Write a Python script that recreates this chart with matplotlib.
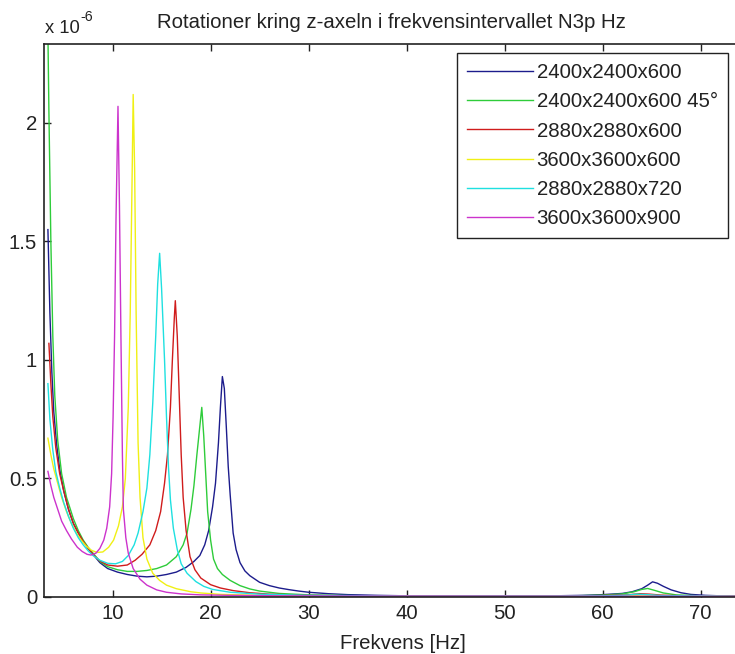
import matplotlib
matplotlib.use("Agg")
import matplotlib.pyplot as plt
from matplotlib.ticker import FixedLocator, FuncFormatter

# Frequency response (rotation about the z axis), values in units of 1e-6
blue_pts = [(3.4, 1.55), (3.6, 1.2), (3.8, 0.95), (4.0, 0.78), (4.3, 0.64), (4.6, 0.54),
            (5.0, 0.45), (5.5, 0.37), (6.0, 0.31), (6.5, 0.27), (7.0, 0.235), (7.5, 0.205),
            (8.0, 0.18), (8.7, 0.145), (9.5, 0.12), (10.5, 0.105), (11.5, 0.095), (12.5, 0.088),
            (13.5, 0.085), (14.5, 0.088), (15.5, 0.095), (16.5, 0.105), (17.5, 0.125),
            (18.3, 0.15), (18.9, 0.175), (19.4, 0.22), (19.8, 0.28), (20.2, 0.38), (20.5, 0.48),
            (20.8, 0.65), (21.0, 0.8), (21.2, 0.93), (21.4, 0.88), (21.6, 0.72), (21.8, 0.55),
            (22.0, 0.43), (22.3, 0.27), (22.6, 0.2), (23.0, 0.145), (23.5, 0.11), (24.0, 0.09),
            (25.0, 0.062), (26.0, 0.048), (27.0, 0.038), (28.0, 0.031), (29.0, 0.025),
            (30.0, 0.02), (32.0, 0.014), (34.0, 0.01), (37.0, 0.007), (40.0, 0.005),
            (45.0, 0.004), (50.0, 0.004), (55.0, 0.005), (58.0, 0.007), (60.0, 0.01),
            (62.0, 0.015), (63.0, 0.022), (64.0, 0.035), (64.6, 0.05), (65.1, 0.064),
            (65.6, 0.058), (66.2, 0.045), (67.0, 0.03), (68.0, 0.018), (69.0, 0.011),
            (70.5, 0.007), (72.0, 0.005), (74.5, 0.004)]

green_pts = [(3.3, 2.7), (3.5, 2.05), (3.7, 1.5), (3.9, 1.1), (4.1, 0.85), (4.4, 0.66),
             (4.8, 0.52), (5.3, 0.42), (6.0, 0.33), (6.5, 0.28), (7.0, 0.24), (7.5, 0.21),
             (8.0, 0.185), (8.7, 0.15), (9.5, 0.128), (10.5, 0.115), (11.5, 0.108),
             (12.5, 0.108), (13.5, 0.112), (14.5, 0.12), (15.5, 0.135), (16.5, 0.17),
             (17.2, 0.22), (17.6, 0.27), (18.0, 0.37), (18.3, 0.47), (18.6, 0.6), (18.9, 0.72),
             (19.1, 0.80), (19.3, 0.68), (19.5, 0.52), (19.7, 0.36), (20.0, 0.24), (20.3, 0.16),
             (20.7, 0.12), (21.2, 0.095), (22.0, 0.07), (23.0, 0.048), (24.0, 0.034),
             (25.0, 0.025), (27.0, 0.015), (30.0, 0.009), (34.0, 0.006), (40.0, 0.004),
             (50.0, 0.004), (57.0, 0.005), (60.0, 0.008), (62.0, 0.013), (63.2, 0.022),
             (64.0, 0.032), (64.6, 0.036), (65.3, 0.028), (66.2, 0.017), (67.5, 0.009),
             (70.0, 0.005), (74.5, 0.003)]

red_pts = [(3.5, 1.07), (3.7, 0.9), (3.9, 0.76), (4.2, 0.63), (4.6, 0.52), (5.0, 0.45),
           (5.5, 0.37), (6.0, 0.31), (6.5, 0.27), (7.0, 0.235), (7.5, 0.205), (8.0, 0.18),
           (8.7, 0.152), (9.5, 0.135), (10.5, 0.13), (11.5, 0.135), (12.3, 0.155),
           (13.0, 0.18), (13.8, 0.22), (14.4, 0.28), (14.9, 0.36), (15.3, 0.48), (15.6, 0.6),
           (15.9, 0.8), (16.1, 1.0), (16.3, 1.18), (16.4, 1.25), (16.6, 1.1), (16.8, 0.85),
           (17.0, 0.6), (17.2, 0.42), (17.5, 0.28), (17.9, 0.17), (18.4, 0.115), (19.0, 0.08),
           (20.0, 0.052), (21.0, 0.038), (22.3, 0.027), (24.0, 0.018), (26.0, 0.012),
           (30.0, 0.007), (35.0, 0.005), (45.0, 0.004), (55.0, 0.004), (60.0, 0.006),
           (62.5, 0.009), (63.8, 0.014), (64.8, 0.012), (66.0, 0.008), (68.0, 0.005),
           (74.5, 0.003)]

yellow_pts = [(3.4, 0.67), (3.7, 0.6), (4.0, 0.54), (4.4, 0.48), (4.8, 0.42), (5.3, 0.36),
              (5.8, 0.31), (6.3, 0.27), (6.8, 0.24), (7.3, 0.215), (7.8, 0.198), (8.4, 0.188),
              (9.0, 0.19), (9.6, 0.21), (10.1, 0.24), (10.6, 0.3), (11.0, 0.38), (11.3, 0.5),
              (11.6, 0.8), (11.8, 1.2), (12.0, 1.8), (12.1, 2.12), (12.25, 1.8), (12.4, 1.2),
              (12.6, 0.65), (12.8, 0.42), (13.1, 0.25), (13.5, 0.16), (14.1, 0.1),
              (14.8, 0.07), (15.5, 0.05), (16.5, 0.035), (18.0, 0.022), (19.0, 0.017),
              (21.0, 0.011), (25.0, 0.007), (30.0, 0.005), (40.0, 0.004), (58.0, 0.004),
              (63.0, 0.006), (64.0, 0.008), (65.5, 0.006), (74.5, 0.003)]

cyan_pts = [(3.4, 0.9), (3.6, 0.75), (3.9, 0.62), (4.2, 0.53), (4.6, 0.46), (5.0, 0.4),
            (5.5, 0.34), (6.0, 0.29), (6.5, 0.25), (7.0, 0.22), (7.5, 0.195), (8.0, 0.175),
            (8.7, 0.155), (9.5, 0.142), (10.3, 0.14), (11.0, 0.15), (11.6, 0.175),
            (12.2, 0.22), (12.6, 0.27), (13.1, 0.36), (13.5, 0.46), (13.8, 0.6), (14.1, 0.82),
            (14.4, 1.1), (14.6, 1.32), (14.8, 1.45), (15.0, 1.3), (15.3, 1.0), (15.5, 0.76),
            (15.7, 0.55), (15.9, 0.41), (16.2, 0.29), (16.6, 0.2), (17.0, 0.14), (17.6, 0.1),
            (18.5, 0.065), (19.3, 0.045), (20.2, 0.032), (22.0, 0.02), (25.0, 0.012),
            (30.0, 0.007), (40.0, 0.004), (55.0, 0.004), (60.0, 0.005), (62.5, 0.008),
            (63.5, 0.012), (64.5, 0.01), (66.0, 0.006), (74.5, 0.003)]

magenta_pts = [(3.4, 0.53), (3.7, 0.47), (4.0, 0.42), (4.4, 0.37), (4.8, 0.32), (5.3, 0.28),
               (5.8, 0.245), (6.4, 0.21), (6.9, 0.192), (7.4, 0.18), (7.8, 0.177),
               (8.3, 0.185), (8.7, 0.205), (9.1, 0.24), (9.4, 0.29), (9.7, 0.38), (9.9, 0.52),
               (10.05, 0.76), (10.2, 1.1), (10.35, 1.6), (10.55, 2.07), (10.7, 1.65),
               (10.85, 1.1), (11.0, 0.6), (11.1, 0.37), (11.35, 0.25), (11.6, 0.185),
               (12.1, 0.12), (12.8, 0.075), (13.5, 0.05), (14.5, 0.03), (15.5, 0.02),
               (17.0, 0.013), (19.0, 0.009), (22.0, 0.007), (27.0, 0.005), (35.0, 0.004),
               (74.5, 0.003)]

series_labels = ["2400x2400x600", "2400x2400x600 45\u00b0", "2880x2880x600",
                 "3600x3600x600", "2880x2880x720", "3600x3600x900"]
series_data = [blue_pts, green_pts, red_pts, yellow_pts, cyan_pts, magenta_pts]
series_colors = ["#1c1c8c", "#2ecc3a", "#d01c1c", "#f0f014", "#1ee0e0", "#cc33cc"]

x_ticks = [10, 20, 30, 40, 50, 60, 70]
y_ticks = [0, 0.5, 1, 1.5, 2]

plt.rcParams["font.family"] = ["Liberation Sans", "DejaVu Sans"]
FS = 14.7
INK = "#222222"

W, H = 735, 654
fig = plt.figure(figsize=(W / 100, H / 100), dpi=100)
ax = fig.add_axes([44 / W, 57 / H, (748 - 44) / W, (597 - 44) / H])

for pts, lab, col in zip(series_data, series_labels, series_colors):
    xs = [p[0] for p in pts]
    ys = [p[1] * 1e-6 for p in pts]
    ax.plot(xs, ys, color=col, lw=1.0, label=lab)

ax.set_xlim(3, 3 + (748 - 44) / 9.8)
ax.set_ylim(0, 2.333e-6)
ax.xaxis.set_major_locator(FixedLocator(x_ticks))
ax.yaxis.set_major_locator(FixedLocator([v * 1e-6 for v in y_ticks]))
ax.yaxis.set_major_formatter(FuncFormatter(lambda v, p: f"{v * 1e6:g}"))
ax.tick_params(direction="in", length=5, width=1.0, top=True, right=False,
               labelsize=FS, pad=5, colors=INK)
for s in ax.spines.values():
    s.set_linewidth(1.2)
    s.set_color(INK)

fig.text(45 / W, 1 - 33 / H, "x 10", fontsize=FS - 1.5, ha="left", va="baseline",
         color=INK)
fig.text(80 / W, 1 - 21 / H, "-6", fontsize=FS - 4.5, ha="left", va="baseline",
         color=INK)
fig.text(391 / W, 1 - 28 / H, "Rotationer kring z-axeln i frekvensintervallet N3p Hz",
         fontsize=FS, ha="center", va="baseline", color=INK)
fig.text(403 / W, 1 - 649 / H, "Frekvens [Hz]", fontsize=FS, ha="center",
         va="baseline", color=INK)

leg = ax.legend(loc="upper left", bbox_to_anchor=(457 / W, 1 - 53 / H),
                bbox_transform=fig.transFigure, borderaxespad=0, fontsize=FS,
                fancybox=False, framealpha=1, edgecolor=INK,
                handlelength=3.2, handletextpad=0.2, labelspacing=0.5,
                borderpad=0.5)
leg.get_frame().set_linewidth(1.0)
for t in leg.get_texts():
    t.set_color(INK)

fig.savefig("out.png", dpi=100)
